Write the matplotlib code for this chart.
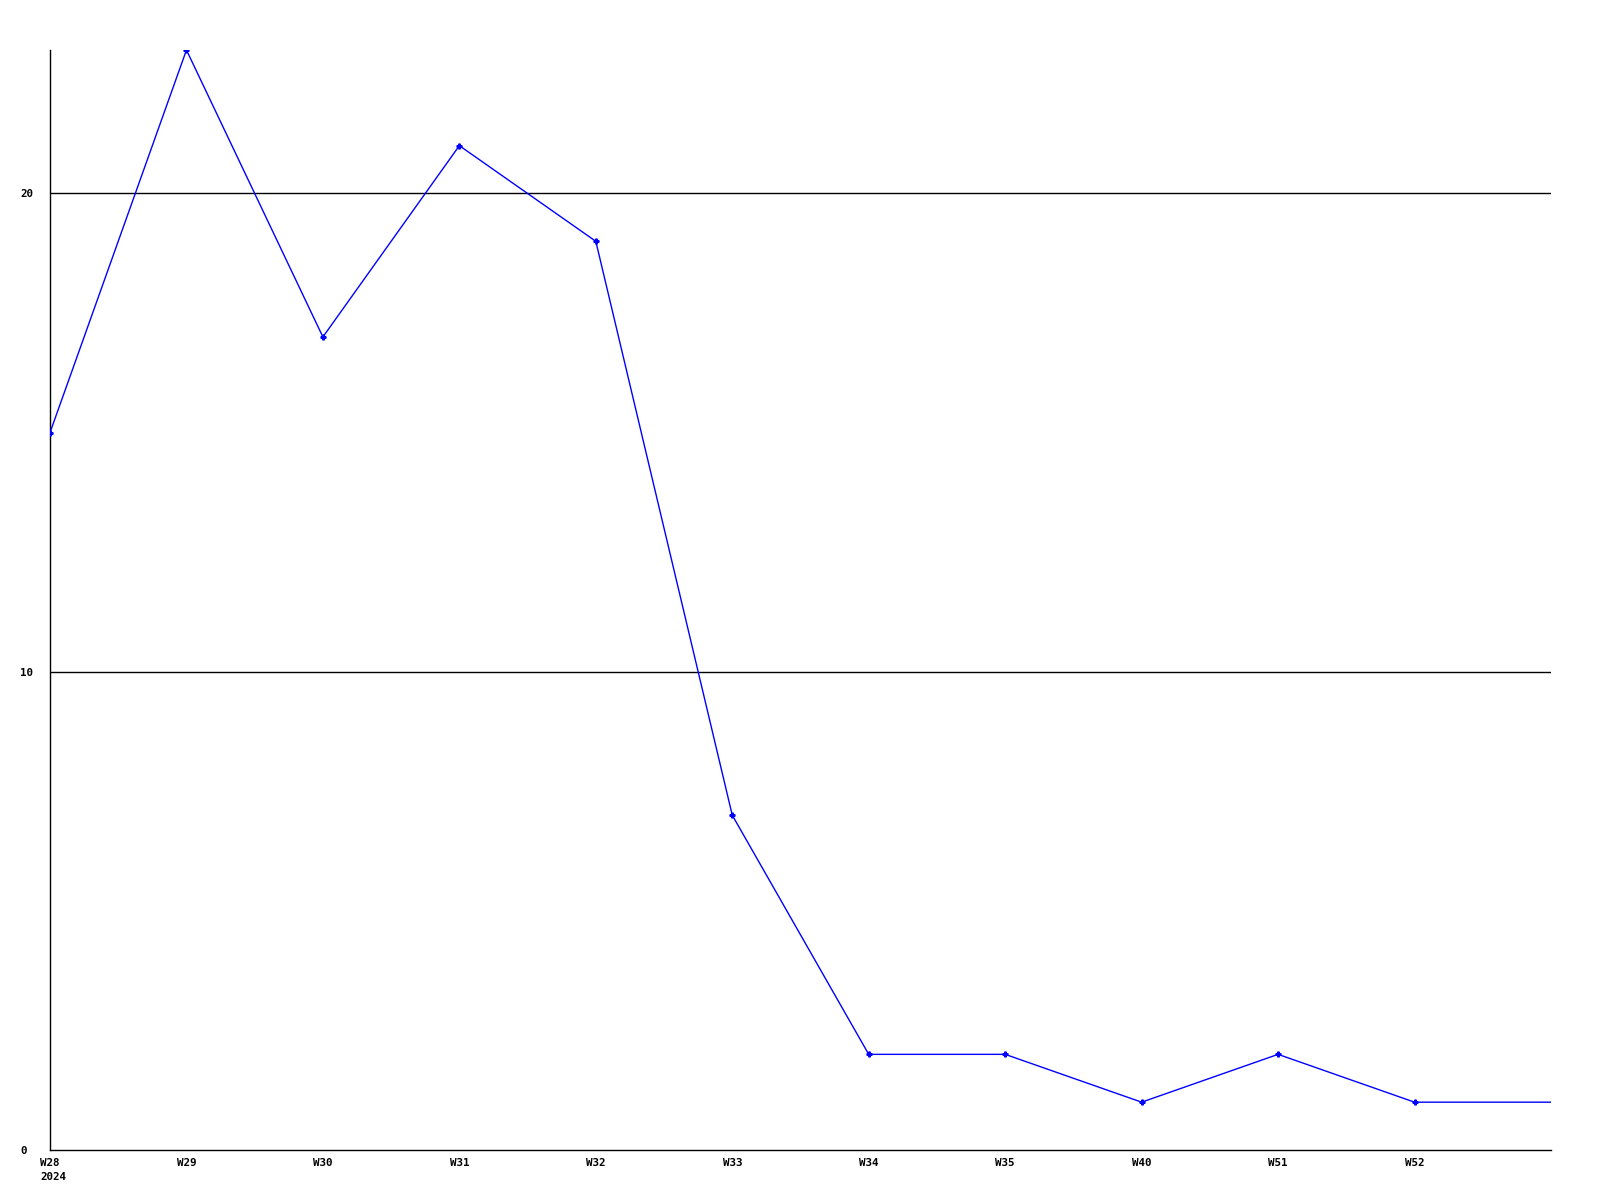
import matplotlib
matplotlib.use("Agg")
import matplotlib.pyplot as plt
from matplotlib.transforms import blended_transform_factory

weeks = ["W28", "W29", "W30", "W31", "W32", "W33", "W34", "W35", "W40", "W51", "W52"]
values = [15, 23, 17, 21, 19, 7, 2, 2, 1, 2, 1]
tail_value = 1  # line continues flat to the right edge
year_label = "2024"
y_ticks = [0, 10, 20]

fig = plt.figure(figsize=(16, 12), dpi=100)
ax = fig.add_axes([50 / 1600, 1 - 1150 / 1200, (1551 - 50) / 1600, (1150 - 50) / 1200])

n = len(weeks)
xs = list(range(n))
ax.plot(xs + [n], values + [tail_value], color="#0000ff", linewidth=1.0, zorder=3)
ax.plot(xs, values, linestyle="none", marker="P", markersize=3.5, color="#0000ff", zorder=4)

ax.set_xlim(0, n)
ax.set_ylim(0, 23)

for y in y_ticks[1:]:
    ax.axhline(y, color="black", linewidth=1.0, zorder=1)

font = dict(family="DejaVu Sans Mono", weight="bold", size=7.8)
ax.set_xticks(xs)
ax.set_xticklabels(weeks, fontdict=font)
ax.set_yticks(y_ticks)
ax.set_yticklabels([str(v) for v in y_ticks], fontdict=font)
ax.tick_params(axis="both", length=0)
ax.tick_params(axis="x", pad=6)
ax.tick_params(axis="y", pad=21.6)
for lbl in ax.get_yticklabels():
    lbl.set_horizontalalignment("left")

trans = blended_transform_factory(ax.transData, ax.transAxes)
ax.text(0, -0.0245, year_label, transform=trans, ha="left", va="center", **font)

for s in ["top", "right"]:
    ax.spines[s].set_visible(False)
ax.spines["left"].set_linewidth(1.0)
ax.spines["bottom"].set_linewidth(1.0)

# align the year label with the W28 label's left edge
fig.canvas.draw()
lbl = ax.get_xticklabels()[0]
bb = lbl.get_window_extent()
inv = ax.transData.inverted()
x_left = inv.transform((bb.x0, 0))[0]
ax.texts[0].set_x(x_left)

fig.savefig("out.png", dpi=100, facecolor="white")
